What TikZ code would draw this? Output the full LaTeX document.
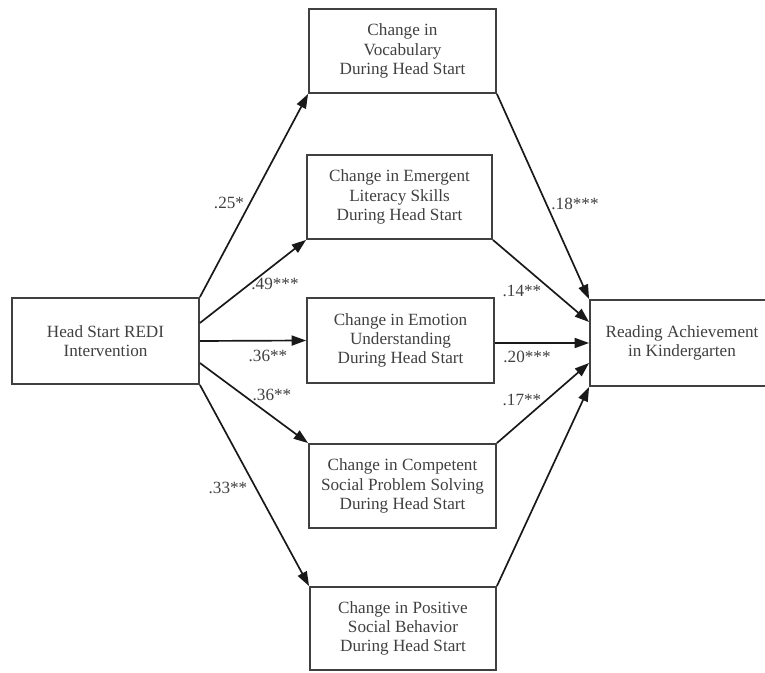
\documentclass[tikz,border=0pt]{standalone}
\usepackage{fontspec}
\setmainfont{Liberation Serif}
\usepackage{tikz}
\usetikzlibrary{positioning, arrows.meta, calc}

\begin{document}
\begin{tikzpicture}[
    arrow/.style={-{Triangle[length=3.6mm, width=2.5mm]}, line width=1.2pt, black!90},
    box/.style={draw=black!75, line width=1.3pt, align=center, inner sep=2pt,
        font=\fontsize{12.2}{13.8}\selectfont, text=black!75},
    coef/.style={font=\fontsize{12.2}{13.8}\selectfont, text=black!75, inner sep=1pt}
]
    \useasboundingbox (0, 0) rectangle (19.125, 16.825);

    % Outer boxes
    \node[box, minimum width=4.675cm, minimum height=2.15cm] (redi) at (2.6375, 8.3)
        {Head Start REDI\\Intervention};
    \node[box, minimum width=4.6cm, minimum height=2.15cm] (reading) at (17.05, 8.25)
        {Reading Achievement\\in Kindergarten};

    % Mediators
    \node[box, minimum width=4.675cm, minimum height=2.1cm] (vocab) at (10.0625, 15.55)
        {Change in\\Vocabulary\\During Head Start};
    \node[box, minimum width=4.625cm, minimum height=2.1cm] (literacy) at (9.9875, 11.9)
        {Change in Emergent\\Literacy Skills\\During Head Start};
    \node[box, minimum width=4.675cm, minimum height=2.125cm] (emotion) at (10.0125, 8.3125)
        {Change in Emotion\\Understanding\\During Head Start};
    \node[box, minimum width=4.675cm, minimum height=2.1cm] (problem) at (10.0625, 4.675)
        {Change in Competent\\Social Problem Solving\\During Head Start};
    \node[box, minimum width=4.65cm, minimum height=2.075cm] (social) at (10.075, 1.1125)
        {Change in Positive\\Social Behavior\\During Head Start};

    % Paths from intervention
    \draw[arrow] (redi.north east) -- (vocab.south west);
    \draw[arrow] ([yshift=0.45cm]redi.east) -- (literacy.south west);
    \draw[arrow] (redi.east) -- (emotion.west);
    \draw[arrow] ([yshift=-0.55cm]redi.east) -- (problem.north west);
    \draw[arrow] (redi.south east) -- (social.north west);

    % Paths to reading
    \draw[arrow] (vocab.south east) -- (reading.north west);
    \draw[arrow] (literacy.south east) -- ([yshift=0.525cm]reading.west);
    \draw[arrow] (emotion.east |- reading.west) -- (reading.west);
    \draw[arrow] (problem.north east) -- ([yshift=-0.5cm]reading.west);
    \draw[arrow] (social.north east) -- (reading.south west);

    % Coefficients
    \node[coef] (a1) at (5.725, 11.75) {.25*};
    \node[coef] (a2) at (6.875, 9.725) {.49***};
    \node[coef] (a3) at (6.7, 7.925) {.36**};
    \node[coef] (a4) at (6.8, 6.95) {.36**};
    \node[coef] (a5) at (5.7, 4.625) {.33**};
    \node[coef] (b1) at (14.375, 11.725) {.18***};
    \node[coef] (b2) at (13.05, 9.55) {.14**};
    \node[coef] (b3) at (13.175, 7.9) {.20***};
    \node[coef] (b4) at (13.05, 6.825) {.17**};

\end{tikzpicture}
\end{document}
